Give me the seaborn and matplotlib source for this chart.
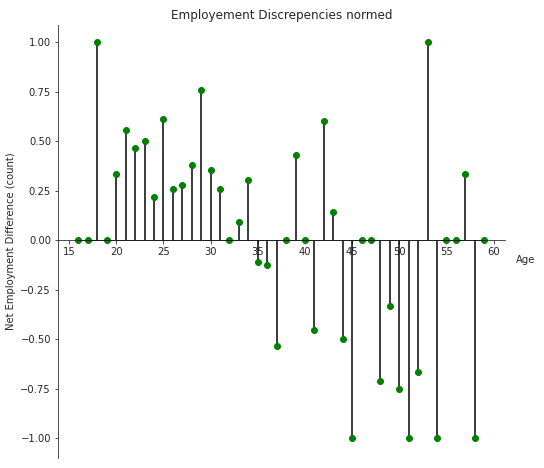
import numpy as np
import matplotlib
matplotlib.use("Agg")
import matplotlib.pyplot as plt
import seaborn as sns

sns.set_style("ticks")
plt.rcParams['font.family'] = ['DejaVu Sans']

# ---------------- DATA ----------------
ages = list(range(16, 60))
values = [0, 0, 1.0, 0, 0.333, 0.555, 0.465, 0.5, 0.217, 0.61,
          0.257, 0.278, 0.379, 0.758, 0.354, 0.257, 0, 0.091, 0.303, -0.111,
          -0.126, -0.535, 0, 0.43, 0, -0.455, 0.6, 0.14, -0.5, -1.0,
          0, 0, -0.71, -0.333, -0.75, -1.0, -0.667, 1.0, -1.0, 0,
          0, 0.333, -1.0, 0]

# ---------------- PLOT ----------------
fig = plt.figure(figsize=(544 / 72, 468 / 72), dpi=72)
ax = fig.add_axes([58 / 544, 10 / 468, 447 / 544, 433 / 468])

markers, stems, base = ax.stem(ages, values, linefmt="k-", markerfmt="go", basefmt="k-")
markers.set_markersize(6)
stems.set_linewidth(1.5)
base.set_linewidth(1)

ax.set_xlim(13.83, 61.2)
ax.set_ylim(-1.1, 1.086)
ax.set_xticks(range(15, 61, 5))
ax.set_yticks([-1, -0.75, -0.5, -0.25, 0, 0.25, 0.5, 0.75, 1.0])
ax.spines["bottom"].set_position(("data", 0))
ax.spines["top"].set_visible(False)
ax.spines["right"].set_visible(False)
ax.tick_params(labelsize=10)

ax.set_title("Employement Discrepencies normed", fontsize=12)
ax.set_ylabel("Net Employment Difference (count)", fontsize=10)
ax.text(62.4, -0.1, "Age", fontsize=10, va="center")

fig.savefig("out.png", dpi=72)
